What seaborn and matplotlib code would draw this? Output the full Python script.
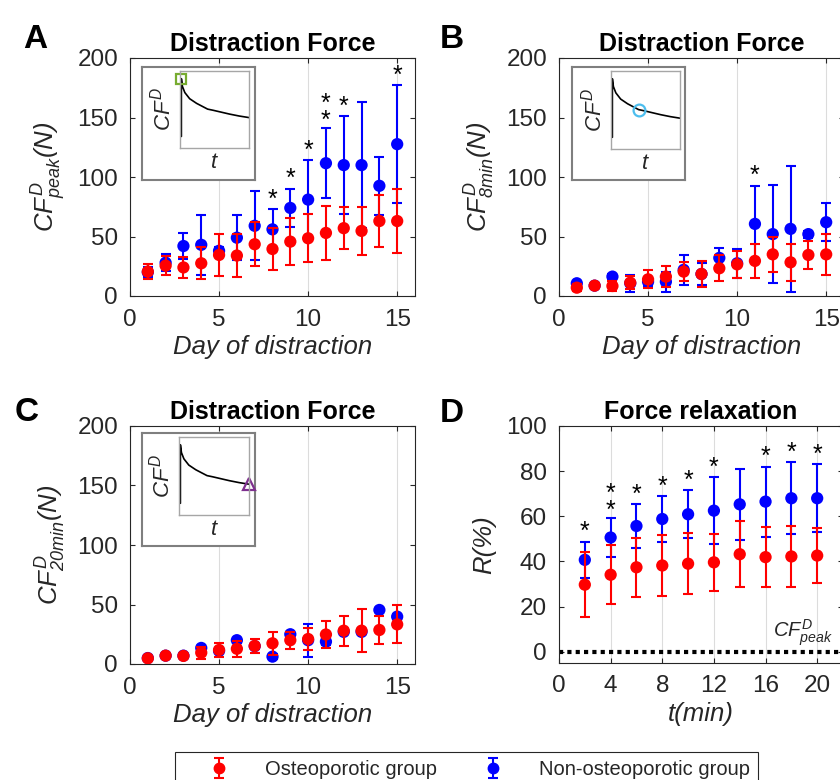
import numpy as np
import pandas as pd
import matplotlib
matplotlib.use("Agg")
import matplotlib.pyplot as plt
import seaborn as sns
from matplotlib.lines import Line2D
from matplotlib.legend_handler import HandlerTuple

# ---------------- data ----------------
days = [1, 2, 3, 4, 5, 6, 7, 8, 9, 10, 11, 12, 13, 14, 15]

# Panel A : peak distraction force (N)
peak_osteo_mean = [20.5, 25.5, 24, 27.5, 34.5, 34, 43.5, 39.5, 45.7, 48.5, 53, 57, 54.7, 63, 63]
peak_osteo_sd = [6, 8, 9, 13.5, 18, 18, 18.5, 18, 19.5, 20, 23, 17.5, 20, 21.5, 27]
peak_non_mean = [20, 28, 42, 43, 38, 49, 59, 56, 74, 81, 111.6, 110, 110, 92.6, 127.6]
peak_non_sd = [4, 7, 11, 25, 3, 19, 29, 17, 16, 33, 29.5, 41, 53, 24.5, 49.5]
peak_star_days = [8, 9, 10, 11, 12, 15]
peak_star_counts = [1, 1, 1, 2, 1, 1]

# Panel B : force at 8 min (N)
min8_osteo_mean = [7, 8.7, 8.4, 11.2, 14, 16.3, 20.5, 18.5, 23.3, 26.6, 29.5, 35, 28.3, 34.5, 35]
min8_osteo_sd = [3, 2, 4, 5.5, 7.5, 8.5, 8.3, 11, 11, 11.5, 14, 15, 15.5, 11.5, 17]
min8_non_mean = [10.7, 8.7, 16.3, 10.7, 12, 12, 22, 18.5, 32, 27.5, 60.6, 52, 56.4, 52, 62]
min8_non_sd = [2, 2, 2, 7, 4, 8.5, 12.5, 9, 8, 12.3, 32, 41, 53, 3, 16]
min8_star_days = [11]
min8_star_counts = [1]

# Panel C : force at 20 min (N)
min20_osteo_mean = [4.8, 7, 6.8, 9.5, 11.8, 12.8, 15.2, 17.4, 20, 21, 24.8, 28, 28, 28.6, 33.3]
min20_osteo_sd = [2, 1, 1, 5, 6, 6.5, 5.8, 9.5, 7, 9.5, 11.6, 12.5, 18, 12, 16]
min20_non_mean = [5, 7, 7, 13.5, 11, 20, 15, 6.2, 25, 20, 18.8, 27, 27, 45.4, 39.8]
min20_non_sd = [1, 1, 1, 2, 2, 2, 2, 2, 2, 13.7, 3, 2, 2, 2, 2]

# Panel D : force relaxation R(%)
t_min = [2, 4, 6, 8, 10, 12, 14, 16, 18, 20]
R_osteo_mean = [29.7, 34.1, 37.4, 38.2, 39, 39.6, 43.2, 41.9, 42.2, 42.6]
R_osteo_sd = [14.3, 13, 13.2, 13.5, 13.6, 12.5, 14.6, 13.4, 13.5, 12]
R_non_mean = [40.7, 50.6, 55.7, 58.8, 60.9, 62.5, 65.3, 66.5, 68, 68]
R_non_sd = [8, 8.7, 9.7, 10, 10.6, 14.8, 15.8, 15.5, 16, 15]
R_star_t = [2, 4, 6, 8, 10, 12, 16, 18, 20]
R_star_counts = [1, 2, 1, 1, 1, 1, 1, 1, 1]

# schematic force-time curve used in the insets (normalised)
inset_t = [0.02, 0.02, 0.035, 0.07, 0.14, 0.24, 0.40, 0.48, 0.60, 0.72, 0.86, 1.0]
inset_cf = [0.15, 0.90, 0.80, 0.72, 0.64, 0.58, 0.505, 0.49, 0.465, 0.44, 0.415, 0.395]

group_labels = ["Osteoporotic group", "Non-osteoporotic group"]

# ---------------- style ----------------
W, H = 840, 780
sns.set_theme(style="white")
plt.rcParams['font.family'] = ['Liberation Sans', 'DejaVu Sans']
plt.rcParams['mathtext.fontset'] = 'custom'
plt.rcParams['mathtext.it'] = 'Liberation Sans:italic'
plt.rcParams['mathtext.rm'] = 'Liberation Sans:italic'
plt.rcParams['mathtext.sf'] = 'Liberation Sans:italic'
plt.rcParams['mathtext.bf'] = 'Liberation Sans:bold'

AX_COLOR = '#262626'
RED = '#ff0000'
BLUE = '#0000ff'
TICK_FS = 17.5
LABEL_FS = 18.5
TITLE_FS = 18

fig = plt.figure(figsize=(W / 100, H / 100), dpi=100)


def rect(x0, y0, x1, y1):
    return [x0 / W, 1 - y1 / H, (x1 - x0) / W, (y1 - y0) / H]


def style_axes(ax, xlim, ylim, xticks, yticks):
    ax.set_xlim(*xlim)
    ax.set_ylim(*ylim)
    ax.set_xticks(xticks)
    ax.set_yticks(yticks)
    ax.tick_params(direction='in', bottom=True, left=True, top=True, right=True,
                   length=3.5, width=0.8, colors=AX_COLOR, labelsize=TICK_FS)
    ax.tick_params(axis='x', pad=9)
    ax.tick_params(axis='y', pad=8.6)
    for s in ax.spines.values():
        s.set_visible(True)
        s.set_color(AX_COLOR)
        s.set_linewidth(0.8)
    ax.grid(axis='x', color='#dcdcdc', lw=0.8)
    ax.grid(axis='y', visible=False)
    ax.set_axisbelow(True)


def plot_group(ax, x, mean, sd, color, z):
    eb = ax.errorbar(x, mean, yerr=sd, fmt='none', ecolor=color, elinewidth=1.5,
                     capsize=3.5, capthick=1.5, zorder=z)
    sns.scatterplot(x=x, y=mean, ax=ax, color=color, s=78, edgecolor='none',
                    linewidth=0, zorder=z + 0.5, legend=False)
    return eb


def add_stars(ax, x_all, mean, sd, star_x, star_n):
    for sx, n in zip(star_x, star_n):
        i = list(x_all).index(sx)
        top = mean[i] + sd[i]
        txt = '\n'.join(['*'] * n)
        ax.annotate(txt, xy=(sx, top), xytext=(0, 7 + 4.25 * (n - 1)),
                    textcoords='offset points', ha='center', va='center',
                    fontsize=18, color='black', linespacing=0.65,
                    annotation_clip=False)


def add_inset(outer_px, inner_px, mk, mk_idx, mk_color, mk_size):
    outer = fig.add_axes(rect(*outer_px))
    outer.set_xticks([])
    outer.set_yticks([])
    outer.set_facecolor('white')
    for s in outer.spines.values():
        s.set_visible(True)
        s.set_color('#7f7f7f')
        s.set_linewidth(1.5)
    inner = fig.add_axes(rect(*inner_px))
    inner.set_facecolor('white')
    inner.plot(inset_t, inset_cf, color='black', lw=1.2)
    inner.plot([inset_t[mk_idx]], [inset_cf[mk_idx]], marker=mk, ms=mk_size,
               mfc='none', mec=mk_color, mew=1.6, ls='none', clip_on=False)
    inner.set_xlim(0, 1)
    inner.set_ylim(0, 1)
    inner.set_xticks([])
    inner.set_yticks([])
    for s in inner.spines.values():
        s.set_visible(True)
        s.set_color('#a6a6a6')
        s.set_linewidth(1.0)
    inner.set_ylabel(r'$CF^{D}$', fontsize=16, labelpad=3, color=AX_COLOR)
    inner.set_xlabel(r'$t$', fontsize=16, labelpad=3, color=AX_COLOR)


# ---------------- panels ----------------
axA = fig.add_axes(rect(130, 58, 415, 296))
axB = fig.add_axes(rect(559, 58, 844, 296))
axC = fig.add_axes(rect(130, 426, 415, 664))
axD = fig.add_axes(rect(559, 426, 843, 663))

panels = [
    (axA, peak_osteo_mean, peak_osteo_sd, peak_non_mean, peak_non_sd,
     r'$CF^{D}_{peak}(N)$', peak_star_days, peak_star_counts),
    (axB, min8_osteo_mean, min8_osteo_sd, min8_non_mean, min8_non_sd,
     r'$CF^{D}_{8min}(N)$', min8_star_days, min8_star_counts),
    (axC, min20_osteo_mean, min20_osteo_sd, min20_non_mean, min20_non_sd,
     r'$CF^{D}_{20min}(N)$', [], []),
]

eb_handles = None
for ax, om, osd, nm, nsd, ylab, sx, sn in panels:
    style_axes(ax, (0, 16), (0, 200), [0, 5, 10, 15], [0, 50, 100, 150, 200])
    eb_b = plot_group(ax, days, nm, nsd, BLUE, 2)
    eb_r = plot_group(ax, days, om, osd, RED, 4)
    if eb_handles is None:
        eb_handles = (eb_r, eb_b)
    add_stars(ax, days, nm, nsd, sx, sn)
    ax.set_title('Distraction Force', fontsize=TITLE_FS, fontweight='bold', pad=5, color='black')
    ax.set_xlabel('Day of distraction', fontsize=LABEL_FS, fontstyle='italic', labelpad=3, color=AX_COLOR)
    ax.set_ylabel(ylab, fontsize=LABEL_FS, labelpad=7, color=AX_COLOR)

# Panel D
style_axes(axD, (0, 22), (-5, 100), [0, 4, 8, 12, 16, 20], [0, 20, 40, 60, 80, 100])
axD.axhline(0, color='black', lw=3, ls=(0, (1, 1)), zorder=1.5)
plot_group(axD, t_min, R_non_mean, R_non_sd, BLUE, 2)
plot_group(axD, t_min, R_osteo_mean, R_osteo_sd, RED, 4)
add_stars(axD, t_min, R_non_mean, R_non_sd, R_star_t, R_star_counts)
axD.text(16.6, 6.6, r'$CF^{D}_{peak}$', fontsize=14.5, ha='left', va='baseline', color=AX_COLOR)
axD.set_title('Force relaxation', fontsize=TITLE_FS, fontweight='bold', pad=5, color='black')
axD.set_xlabel('t(min)', fontsize=LABEL_FS, fontstyle='italic', labelpad=3, color=AX_COLOR)
axD.set_ylabel('R(%)', fontsize=LABEL_FS, fontstyle='italic', labelpad=7, color=AX_COLOR)

# insets
add_inset((142, 67, 255, 180), (180, 71, 249, 148), 's', 1, '#77ac30', 7)
add_inset((572, 67, 685, 180), (611, 71, 680, 149), 'o', 6, '#4dbeee', 8.5)
add_inset((142, 433, 255, 546), (179, 437, 249, 515), '^', -1, '#7e2f8e', 9)

# panel letters
for letter, x, yb in [('A', 23, 48), ('B', 440, 48), ('C', 15, 421), ('D', 440, 422)]:
    fig.text(x / W, 1 - yb / H, letter, fontsize=24, fontweight='bold',
             ha='left', va='baseline', color='black')

# legend
h_red = (eb_handles[0], Line2D([], [], marker='o', color=RED, ls='none', ms=7.5))
h_blue = (eb_handles[1], Line2D([], [], marker='o', color=BLUE, ls='none', ms=7.5))
leg = fig.legend(handles=[h_red, h_blue], labels=group_labels, loc='upper left',
                 bbox_to_anchor=(175 / W, 1 - 752 / H), ncol=2, fontsize=14.5,
                 handlelength=3.56, handletextpad=0.5, columnspacing=1.0,
                 borderpad=0.4, borderaxespad=0, frameon=True, fancybox=False,
                 edgecolor=AX_COLOR, framealpha=1,
                 handler_map={tuple: HandlerTuple(ndivide=1)})
leg.get_frame().set_linewidth(0.8)

fig.savefig('out.png', dpi=100)
